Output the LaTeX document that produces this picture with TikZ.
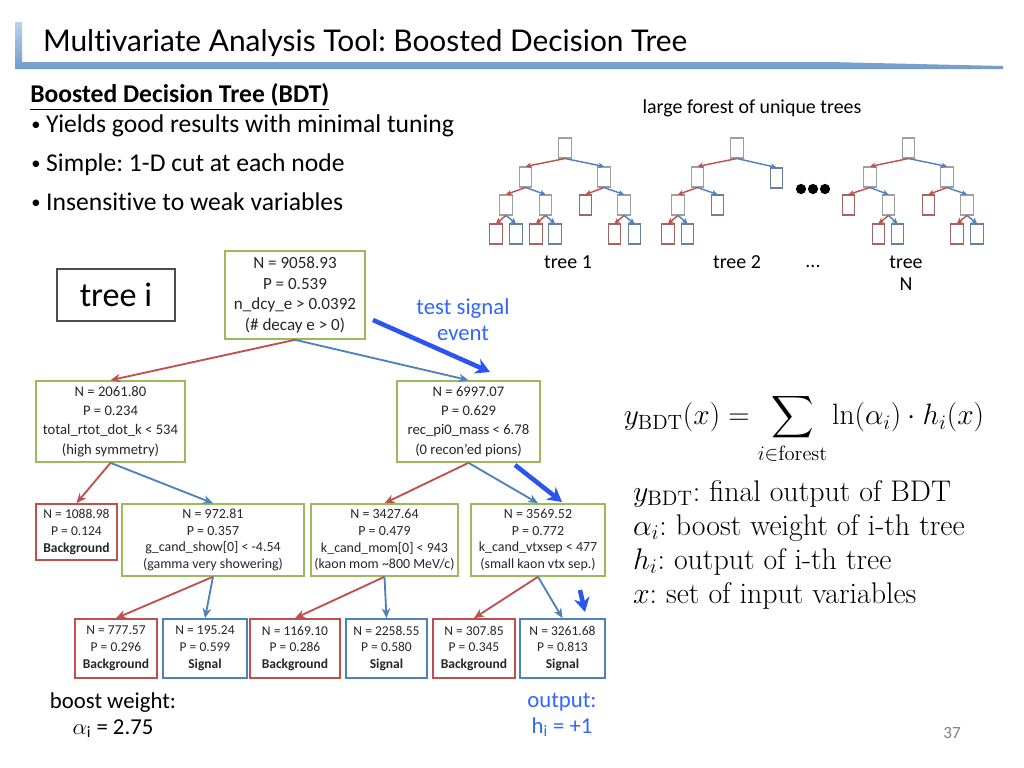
\RequirePackage{fix-cm}
\documentclass[tikz,border=0pt]{standalone}
\usepackage{amsmath}
\usepackage{fontspec}
\usetikzlibrary{arrows.meta,positioning}
\newfontfamily\bodyfont[Ligatures=NoCommon]{Carlito}
\newfontfamily\headfont[Ligatures=NoCommon]{Lato}
\definecolor{cutgreen}{HTML}{9BBB59}
\definecolor{bgred}{HTML}{C0504D}
\definecolor{sigblue}{HTML}{4F81BD}
\definecolor{evblue}{HTML}{2B55F0}
\definecolor{txtblue}{HTML}{3366FF}
\definecolor{barblue}{HTML}{8EB4E3}
\colorlet{leafred}{bgred!55!gray}
\colorlet{leafblue}{sigblue!55!gray}
\newcommand{\blt}{{\fontsize{13}{13}\selectfont\raisebox{0.8pt}{\textbullet}}\kern4pt}
\frenchspacing

\begin{document}
\begin{tikzpicture}[x=0.703pt, y=-0.703pt, nbox/.style={line width=1.1pt, align=center, inner sep=0pt, text=black!85}, cut/.style={nbox, draw=cutgreen}, bgleaf/.style={nbox, draw=bgred}, sigleaf/.style={nbox, draw=sigblue}, f12/.style={font=\bodyfont\fontsize{12}{14.6}\selectfont}, f11/.style={font=\bodyfont\fontsize{10.3}{13.5}\selectfont}, f10/.style={font=\bodyfont\fontsize{9.8}{11.8}\selectfont}, f9/.style={font=\bodyfont\fontsize{9.5}{11.8}\selectfont}, ra/.style={draw=bgred, line width=1.3pt, -{Stealth[length=7pt,width=6pt]}}, ba/.style={draw=sigblue, line width=1.3pt, -{Stealth[length=7pt,width=6pt]}}, ev/.style={draw=evblue, line width=3.2pt, -{Stealth[length=10pt,width=11pt]}}, tb/.style={draw=gray!75, line width=0.8pt, minimum width=9pt, minimum height=14pt, inner sep=0pt}, tr/.style={tb, draw=leafred}, tbl/.style={tb, draw=leafblue}, sra/.style={draw=bgred, line width=1pt, -{Stealth[length=4pt,width=4pt]}}, sba/.style={draw=sigblue, line width=1pt, -{Stealth[length=4pt,width=4pt]}}]
\fill[white] (0,0) rectangle (1024,768);
\useasboundingbox (0,0) rectangle (1024,768);
% title bar
\shade[top color=barblue!60!white, bottom color=sigblue!80] (15,22) -- (22,22) -- (22,62) -- (830,62) -- (1003,66) -- (1003,69) -- (15,69) -- cycle;
\node[anchor=base west, font=\headfont\fontsize{21}{25}\selectfont] (title) at (38,51) {Multivariate Analysis Tool: Boosted Decision Tree};
% bullets
\node[anchor=base west, font=\bodyfont\fontsize{18}{22}\selectfont\bfseries, inner sep=0pt] (head) at (30,102) {\underline{Boosted Decision Tree (BDT)}};
\node[anchor=base west, font=\bodyfont\fontsize{18}{22}\selectfont, inner sep=0pt] (b1) at (31,132) {\blt Yields good results with minimal tuning};
\node[anchor=base west, font=\bodyfont\fontsize{18}{22}\selectfont, inner sep=0pt] (b2) at (31,171) {\blt Simple: 1-D cut at each node};
\node[anchor=base west, font=\bodyfont\fontsize{18}{22}\selectfont, inner sep=0pt] (b3) at (31,210) {\blt Insensitive to weak variables};
% forest
\node[font=\bodyfont\fontsize{14}{17}\selectfont] (forest) at (752,108) {large forest of unique trees};
\foreach \n/\x/\y/\s in {a0/565/148/tb, a1/525.5/177/tb, a2/604/177/tb, a3/506/205/tb, a4/545.5/205/tb, a5/585.5/205/tr, a6/624/205/tb, a7/496/234/tr, a8/516/234/tbl, a9/536/234/tr, a10/555/234/tbl, a11/614.5/234/tr, a12/634.5/234/tbl, b0/737/148/tb, b1/697.5/177/tb, b2/776.5/178/tbl, b3/678/205/tb, b4/717.5/205/tbl, b5/668/234/tr, b6/687.5/234/tbl, c0/908.5/148/tb, c1/870/177/tb, c2/947/177/tb, c3/848.5/205/tr, c4/888.5/205/tb, c5/928.5/205/tr, c6/967/205/tb, c7/878.5/234/tr, c8/897.5/234/tbl, c9/957/234/tr, c10/977/234/tbl}
  \node[\s] (\n) at (\x,\y) {};
\foreach \p/\c/\s in {a0/a1/sra, a0/a2/sba, a1/a3/sra, a1/a4/sba, a2/a5/sra, a2/a6/sba, a3/a7/sra, a3/a8/sba, a4/a9/sra, a4/a10/sba, a6/a11/sra, a6/a12/sba, b0/b1/sra, b0/b2/sba, b1/b3/sra, b1/b4/sba, b3/b5/sra, b3/b6/sba, c0/c1/sra, c0/c2/sba, c1/c3/sra, c1/c4/sba, c2/c5/sra, c2/c6/sba, c4/c7/sra, c4/c8/sba, c6/c9/sra, c6/c10/sba}
  \draw[\s] (\p.south) -- (\c.north);
\foreach \x in {801,813,825} \fill (\x,189) circle (3.6pt);
\node[font=\bodyfont\fontsize{14}{17}\selectfont] (t1) at (568,262) {tree 1};
\node[font=\bodyfont\fontsize{14}{17}\selectfont] (t2) at (737,262) {tree 2};
\node[font=\bodyfont\fontsize{14}{17}\selectfont] (tdots) at (813,266) {...};
\node[font=\bodyfont\fontsize{14}{15.5}\selectfont, align=center] (tN) at (906,273) {tree\\N};
% tree i
\node[draw=black!70, line width=0.8pt, minimum width=83pt, minimum height=36.6pt, font=\bodyfont\fontsize{24}{28}\selectfont] (treei) at (116,295) {tree i};
\node[cut, f12, minimum width=98.4pt, minimum height=61.9pt] (root) at (295,295) {N = 9058.93\\P = 0.539\\n\_dcy\_e > 0.0392\\(\# decay e > 0)};
\node[font=\bodyfont\fontsize{16}{18.3}\selectfont, text=txtblue, align=center] (test) at (463,320) {test signal\\event};
\node[cut, f11, minimum width=104.7pt, minimum height=57pt] (l) at (110.5,421.5) {N = 2061.80\\P = 0.234\\total\_rtot\_dot\_k < 534\\(high symmetry)};
\node[cut, f11, minimum width=100.5pt, minimum height=57pt] (r) at (468.5,421.5) {N = 6997.07\\P = 0.629\\rec\_pi0\_mass < 6.78\\(0 recon’ed pions)};
\node[bgleaf, f9, minimum width=57pt, minimum height=39.4pt] (ll) at (76.5,532) {N = 1088.98\\P = 0.124\\\textbf{Background}};
\node[cut, f10, minimum width=128pt, minimum height=50.6pt] (lr) at (213,540) {N = 972.81\\P = 0.357\\g\_cand\_show[0] < -4.54\\(gamma very showering)};
\node[cut, f10, minimum width=103.3pt, minimum height=50.6pt] (rl) at (384.5,540) {N = 3427.64\\P = 0.479\\k\_cand\_mom[0] < 943\\(kaon mom \textasciitilde800 MeV/c)};
\node[cut, f10, minimum width=94.2pt, minimum height=50.6pt] (rr) at (538,540) {N = 3569.52\\P = 0.772\\k\_cand\_vtxsep < 477\\(small kaon vtx sep.)};
\node[bgleaf, f9, minimum width=57.6pt, minimum height=41.5pt] (lra) at (116,648.5) {N = 777.57\\P = 0.296\\\textbf{Background}};
\node[sigleaf, f9, minimum width=59pt, minimum height=41.5pt] (lrb) at (205,648.5) {N = 195.24\\P = 0.599\\\textbf{Signal}};
\node[bgleaf, f9, minimum width=63.3pt, minimum height=41.5pt] (rla) at (295,648.5) {N = 1169.10\\P = 0.286\\\textbf{Background}};
\node[sigleaf, f9, minimum width=57pt, minimum height=41.5pt] (rlb) at (386.5,648.5) {N = 2258.55\\P = 0.580\\\textbf{Signal}};
\node[bgleaf, f9, minimum width=57.6pt, minimum height=41.5pt] (rra) at (474,648.5) {N = 307.85\\P = 0.345\\\textbf{Background}};
\node[sigleaf, f9, minimum width=59.8pt, minimum height=41.5pt] (rrb) at (562.5,648.5) {N = 3261.68\\P = 0.813\\\textbf{Signal}};
\draw[ra] (root.south) -- (l.north); \draw[ba] (root.south) -- (r.north);
\draw[ra] (l.south) -- (ll.north); \draw[ba] (l.south) -- (lr.north);
\draw[ra] (r.south) -- (rl.north); \draw[ba] (r.south) -- (rr.north);
\draw[ra] (lr.south) -- (lra.north); \draw[ba] (lr.south) -- (lrb.north);
\draw[ra] (rl.south) -- (rla.north); \draw[ba] (rl.south) -- (rlb.north);
\draw[ra] (rr.south) -- (rra.north); \draw[ba] (rr.south) -- (rrb.north);
% path of the test event
\coordinate (e0) at (373,320); \coordinate (e1) at (490,372);
\coordinate (e2) at (515,465); \coordinate (e3) at (562,502);
\coordinate (e4) at (580,590); \coordinate (e5) at (585,612);
\draw[ev] (e0) -- (e1); \draw[ev] (e2) -- (e3); \draw[ev] (e4) -- (e5);
\node[font=\bodyfont\fontsize{16}{18.3}\selectfont, align=center] (alpha) at (113,715) {boost weight:\\$\alpha$\textsubscript{i} = 2.75};
\node[font=\bodyfont\fontsize{16}{18.3}\selectfont, align=center, text=txtblue] (out) at (562,715) {output:\\h\textsubscript{i} = +1};
% formula
\node[font=\fontsize{20.7}{25}\selectfont] (eq) at (804,429) {$y_{\mathrm{BDT}}(x) = \displaystyle\sum_{i\in\mathrm{forest}} \ln(\alpha_i)\cdot h_i(x)$};
\node[anchor=north west, align=left, font=\fontsize{21}{24}\selectfont] (leg) at (628,475) {$y_{\mathrm{BDT}}$: final output of BDT\\$\alpha_i$: boost weight of i-th tree\\$h_i$: output of i-th tree\\$x$: set of input variables};
\node[font=\bodyfont\fontsize{12}{14}\selectfont, text=gray] (num) at (952,733) {37};
\end{tikzpicture}
\end{document}
